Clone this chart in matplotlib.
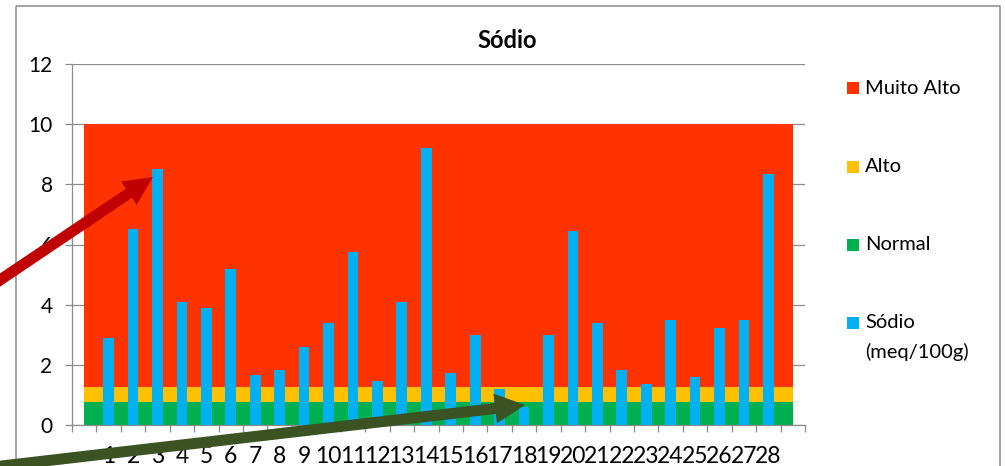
"""
Gráfico de Sódio: barras por amostra sobre faixas de referência
(Normal / Alto / Muito Alto), com duas setas de destaque.
"""

import numpy as np
import matplotlib.pyplot as plt
from matplotlib.patches import Rectangle, FancyArrow

plt.rcParams['font.family'] = ['Lato', 'DejaVu Sans']

# dados
amostras = list(range(1, 29))
sodio = [2.9, 6.5, 8.5, 4.1, 3.9, 5.2, 1.65, 1.83, 2.6, 3.4,
         5.75, 1.47, 4.1, 9.2, 1.72, 2.98, 1.2, 0.6, 3.0, 6.45,
         3.38, 1.83, 1.37, 3.48, 1.59, 3.23, 3.48, 8.33]

# faixas de referência (área empilhada sobre 30 categorias, 0..29)
categorias = list(range(30))
faixa_normal = [0.75] * 30
faixa_alto = [0.5] * 30
faixa_muito_alto = [8.75] * 30

cor_muito_alto = '#FF3300'
cor_alto = '#FFC000'
cor_normal = '#00B050'
cor_sodio = '#00B0F0'
cinza = '#8C8C8C'

W, H = 1005, 466


def desenhar_grafico(fig):
    ax = fig.add_axes([72 / W, (H - 425) / H, (805 - 72) / W, (425 - 64) / H])

    # faixas empilhadas
    n = np.array(faixa_normal)
    a = n + np.array(faixa_alto)
    m = a + np.array(faixa_muito_alto)
    ax.fill_between(categorias, 0, n, color=cor_normal, lw=0, zorder=2)
    ax.fill_between(categorias, n, a, color=cor_alto, lw=0, zorder=2)
    ax.fill_between(categorias, a, m, color=cor_muito_alto, lw=0, zorder=2)

    # barras de sódio
    ax.bar(amostras, sodio, width=0.44, color=cor_sodio, zorder=3)

    ax.set_xlim(-0.5, 29.5)
    ax.set_ylim(0, 12)

    # eixo y
    ax.set_yticks(np.arange(0, 13, 2))
    ax.yaxis.grid(True, color=cinza, lw=0.9, zorder=1)
    ax.set_axisbelow(True)
    ax.tick_params(axis='y', length=5, width=0.9, color=cinza, pad=9,
                   labelsize=15, labelcolor='black')

    # eixo x: marcas nas divisões, rótulos nas amostras
    ax.set_xticks(np.arange(-0.5, 30, 1))
    ax.set_xticklabels([])
    ax.set_xticks(amostras, minor=True)
    ax.set_xticklabels([str(v) for v in amostras], minor=True)
    ax.tick_params(axis='x', which='major', length=5, width=0.9, color=cinza)
    ax.tick_params(axis='x', which='minor', length=0, pad=15, labelsize=16.5)

    for lado in ('top', 'right'):
        ax.spines[lado].set_visible(False)
    for lado in ('left', 'bottom'):
        ax.spines[lado].set_color(cinza)
        ax.spines[lado].set_linewidth(0.9)
    return ax


def desenhar_sobreposicao(fig):
    ov = fig.add_axes([0, 0, 1, 1], zorder=10)
    ov.set_xlim(0, W)
    ov.set_ylim(H, 0)
    ov.axis('off')
    ov.patch.set_alpha(0)

    # moldura do gráfico
    ov.add_patch(Rectangle((16, 6), 984, 500, fill=False, ec=cinza, lw=1.1))

    # título
    ov.text(507, 40, 'Sódio', ha='center', va='center',
            fontsize=17, fontweight='bold')

    # legenda
    itens = [(88, cor_muito_alto, 'Muito Alto'),
             (167, cor_alto, 'Alto'),
             (245, cor_normal, 'Normal'),
             (323, cor_sodio, 'Sódio')]
    for y, cor, txt in itens:
        ov.add_patch(Rectangle((847, y - 6), 12, 12, color=cor, lw=0))
        ov.text(865, y, txt, ha='left', va='center', fontsize=14.5)
    ov.text(865, 352, '(meq/100g)', ha='left', va='center', fontsize=14.5)

    # setas
    ov.add_patch(FancyArrow(-20, 293.5, 173, -116.5, width=11,
                            head_width=28, head_length=29,
                            length_includes_head=True,
                            color='#C00000', lw=0))
    ov.add_patch(FancyArrow(-20, 468.5, 545, -63.5, width=11,
                            head_width=30, head_length=30,
                            length_includes_head=True,
                            color='#3B5323', lw=0))


def main():
    fig = plt.figure(figsize=(W / 100, H / 100), dpi=100)
    desenhar_grafico(fig)
    desenhar_sobreposicao(fig)
    fig.savefig('out.png', dpi=100)


if __name__ == '__main__':
    main()
